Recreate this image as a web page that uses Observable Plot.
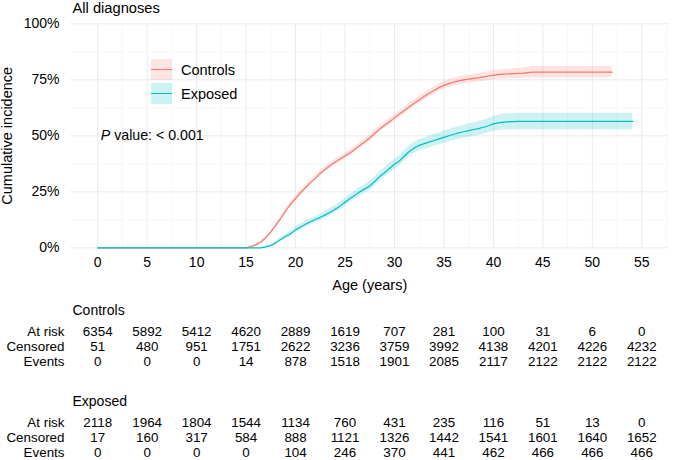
<!DOCTYPE html>
<html>
<head>
<meta charset="utf-8">
<script src="https://cdn.jsdelivr.net/npm/d3@7"></script>
<script src="https://cdn.jsdelivr.net/npm/@observablehq/plot@0.6"></script>
<style>
  html, body { margin: 0; padding: 0; background: #fff; }
  #wrap { position: relative; width: 685px; height: 460px; overflow: hidden;
          font-family: 'Liberation Sans', Arial, Helvetica, sans-serif; color: #000; }
  #wrap svg { display: block; }
  .legend { position: absolute; left: 151px; top: 59px; }
  .legend .item { position: relative; height: 23.5px; }
  .legend .key { position: absolute; left: 0; top: 0; width: 21px; height: 21px; }
  .legend .key span { position: absolute; left: 0; top: 10px; width: 21px; height: 1.2px; }
  .legend .lab { position: absolute; left: 30px; top: 1px; font-size: 14.5px; line-height: 20px; white-space: nowrap; }
</style>
</head>
<body>
<div id="wrap"></div>
<script>
// ---------------- data ----------------
const chartTitle = "All diagnoses";
const xTitle = "Age (years)";
const yTitle = "Cumulative incidence";
const pItalic = "P";
const pRest = "value: < 0.001";
const pPos = {t: 0, p: 0.5};

const groups = ["Controls", "Exposed"];
const groupColors = ["#F8766D", "#00BFC4"];

const xTicks = [0, 5, 10, 15, 20, 25, 30, 35, 40, 45, 50, 55];
const xMinor = [2.5, 7.5, 12.5, 17.5, 22.5, 27.5, 32.5, 37.5, 42.5, 47.5, 52.5, 57.5];
const yTicks = [0, 0.25, 0.5, 0.75, 1];
const yMinor = [0.125, 0.375, 0.625, 0.875];

// Controls: age (years), cumulative incidence (%), lower / upper CI (%)
const ctrlAge = [0,15,15.5,16,16.5,17,17.5,18,18.5,19,19.5,20,
  20.5,21,21.5,22,22.5,23,23.5,24,24.5,25,
  25.5,26,26.5,27,27.5,28,28.5,29,29.5,30,
  30.5,31,31.5,32,32.5,33,33.5,34,34.5,35,
  35.5,36,36.5,37,37.5,38,38.5,39,39.5,40,
  40.5,41,42,43,44,52];
const ctrlCI = [0,0,0.5,1.3,2.6,4.5,7,10,13,16.5,19.5,22,
  24.5,26.8,29,31,33.2,35,36.7,38.2,39.6,41,
  42.3,44,45.7,47.3,49,51,53,54.7,56.3,58,
  59.7,61.3,63,64.5,66,67.5,69,70.2,71.5,72.5,
  73.3,74,74.5,75,75.3,75.6,75.9,76.3,76.7,77,
  77.3,77.5,77.8,78,78.4,78.4];
const ctrlLo = [0,0,0.2,0.9,2.1,3.9,6.3,9.2,12.1,15.6,18.5,21,
  23.5,25.7,27.9,29.9,32,33.8,35.5,37,38.4,39.7,
  41,42.7,44.4,46,47.6,49.6,51.6,53.3,54.9,56.5,
  58.2,59.8,61.5,63,64.4,65.9,67.4,68.6,69.8,70.8,
  71.6,72.3,72.7,73.2,73.5,73.7,74,74.4,74.7,75,
  75.3,75.4,75.6,75.7,75.9,75.9];
const ctrlHi = [0,0,0.8,1.7,3.1,5.1,7.7,10.8,13.9,17.4,20.5,23,
  25.5,27.9,30.1,32.1,34.4,36.2,37.9,39.4,40.8,42.3,
  43.6,45.3,47,48.6,50.4,52.4,54.4,56.1,57.7,59.5,
  61.2,62.8,64.5,66,67.6,69.1,70.6,71.8,73.2,74.2,
  75,75.7,76.3,76.8,77.1,77.5,77.8,78.2,78.7,79,
  79.3,79.6,80,80.3,80.9,80.9];

// Exposed
const expAge = [0,16.5,17,17.5,18,18.5,19,19.5,20,
  20.5,21,21.5,22,22.5,23,23.5,24,24.5,25,
  25.5,26,26.5,27,27.5,28,28.5,29,29.5,30,
  30.5,31,31.5,32,32.5,33,33.5,34,34.5,35,
  35.5,36,36.5,37,37.5,38,38.5,39,39.5,40,
  40.5,41,42.5,54.1];
const expCI = [0,0,0.4,1,2.2,3.7,5,6.3,8,
  9.3,10.5,11.6,12.6,13.6,14.7,15.9,17.2,18.6,20.3,
  22,23.5,25,26.3,27.6,29.6,31.8,33.5,35.5,37.3,
  38.8,41,43,44.6,45.7,46.5,47.2,47.9,48.6,49.3,
  50,50.7,51.3,51.8,52.3,52.8,53.2,53.8,54.5,55.3,
  55.8,56.1,56.4,56.4];
const expLo = [0,0,0.1,0.5,1.5,2.8,4,5.2,6.8,
  8,9.2,10.2,11.2,12.1,13.2,14.3,15.6,16.9,18.6,
  20.2,21.7,23.1,24.4,25.6,27.6,29.7,31.4,33.3,35.1,
  36.5,38.7,40.6,42.2,43.2,44,44.6,45.3,45.9,46.6,
  47.2,47.9,48.4,48.9,49.3,49.8,50.1,50.7,51.3,52,
  52.4,52.6,52.7,52.7];
const expHi = [0,0,0.7,1.5,2.9,4.6,6,7.4,9.2,
  10.6,11.8,13,14,15.1,16.2,17.5,18.8,20.3,22,
  23.8,25.3,26.9,28.2,29.6,31.6,33.9,35.6,37.7,39.5,
  41.1,43.3,45.4,47,48.2,49,49.8,50.5,51.3,52,
  52.8,53.5,54.2,54.7,55.3,55.8,56.3,56.9,57.7,58.6,
  59.2,59.6,60.1,60.1];

// Risk tables
const tableTimes = [0,5,10,15,20,25,30,35,40,45,50,55];
const tableRows = ["At risk", "Censored", "Events"];
const ctrlAtRisk   = [6354,5892,5412,4620,2889,1619,707,281,100,31,6,0];
const ctrlCensored = [51,480,951,1751,2622,3236,3759,3992,4138,4201,4226,4232];
const ctrlEvents   = [0,0,0,14,878,1518,1901,2085,2117,2122,2122,2122];
const expAtRisk    = [2118,1964,1804,1544,1134,760,431,235,116,51,13,0];
const expCensored  = [17,160,317,584,888,1121,1326,1442,1541,1601,1640,1652];
const expEvents    = [0,0,0,0,104,246,370,441,462,466,466,466];

// ---------------- build ----------------
const FONT = "'Liberation Sans', Arial, Helvetica, sans-serif";
const W = 685, ML = 70, MR = 16.5;
const xDomain = [-2.75, 57.75];
const TFS = 13.4;

const curve = (ages, ci, lo, hi, g) => ages.map((t, i) => ({t, p: ci[i] / 100, lo: lo[i] / 100, hi: hi[i] / 100, g}));
const curves = [
  ...curve(ctrlAge, ctrlCI, ctrlLo, ctrlHi, groups[0]),
  ...curve(expAge, expCI, expLo, expHi, groups[1])
];

const main = Plot.plot({
  width: W, height: 300,
  marginLeft: ML, marginRight: MR, marginTop: 23.3, marginBottom: 52.7,
  style: {fontFamily: FONT, fontSize: "14px", color: "#000", background: "#fff", overflow: "visible"},
  x: {domain: xDomain},
  y: {domain: [0, 1]},
  color: {domain: groups, range: groupColors},
  marks: [
    Plot.ruleX(xMinor, {stroke: "#f3f3f3", strokeWidth: 0.7}),
    Plot.ruleY(yMinor, {stroke: "#f3f3f3", strokeWidth: 0.7}),
    Plot.ruleX(xTicks, {stroke: "#ebebeb", strokeWidth: 1}),
    Plot.ruleY(yTicks, {stroke: "#ebebeb", strokeWidth: 1}),
    Plot.areaY(curves, {x: "t", y1: "lo", y2: "hi", z: "g", fill: "g", fillOpacity: 0.2, curve: "linear"}),
    Plot.line(curves, {x: "t", y: "p", z: "g", stroke: "g", strokeWidth: 1.2, curve: "linear"}),
    Plot.axisX({ticks: xTicks, tickSize: 0, tickPadding: 9, fontSize: 14, label: null}),
    Plot.axisY({ticks: yTicks, tickSize: 0, tickPadding: 11, fontSize: 14, label: null,
                tickFormat: d => `${Math.round(d * 100)}%`}),
    Plot.text([pPos], {x: "t", y: "p", text: () => pItalic, fontStyle: "italic", textAnchor: "start", dx: 3, fontSize: 14.2}),
    Plot.text([pPos], {x: "t", y: "p", text: () => pRest, textAnchor: "start", dx: 16.5, fontSize: 14.2}),
    Plot.text([chartTitle], {frameAnchor: "top-left", textAnchor: "start", lineAnchor: "middle", dx: 2, dy: -15.3, fontSize: 14.7}),
    Plot.text([xTitle], {frameAnchor: "bottom", textAnchor: "middle", lineAnchor: "middle", dy: 38, fontSize: 14.5}),
    Plot.text([yTitle], {frameAnchor: "left", textAnchor: "middle", lineAnchor: "middle", rotate: -90, dx: -63.5, fontSize: 14.5})
  ]
});

function riskTable(name, atRisk, censored, events, titleY, rowRange, h) {
  const rows = [];
  const vals = [atRisk, censored, events];
  tableRows.forEach((r, j) => tableTimes.forEach((t, i) => rows.push({t, r, v: String(vals[j][i])})));
  return Plot.plot({
    width: W, height: h,
    marginLeft: ML, marginRight: MR, marginTop: 0, marginBottom: 0,
    style: {fontFamily: FONT, fontSize: TFS + "px", color: "#000", background: "#fff", overflow: "visible"},
    x: {domain: xDomain, axis: null},
    y: {type: "point", domain: tableRows, range: rowRange, padding: 0},
    marks: [
      Plot.axisY({tickSize: 0, tickPadding: 6, fontSize: TFS, label: null}),
      Plot.text(rows, {x: "t", y: "r", text: "v", fontSize: TFS}),
      Plot.text([name], {frameAnchor: "top-left", textAnchor: "start", lineAnchor: "middle", dx: 2, dy: titleY, fontSize: 14})
    ]
  });
}

const wrap = document.getElementById("wrap");
wrap.appendChild(main);
wrap.appendChild(riskTable(groups[0], ctrlAtRisk, ctrlCensored, ctrlEvents, 10.5, [30.5, 60.5], 80));
wrap.appendChild(riskTable(groups[1], expAtRisk, expCensored, expEvents, 21.5, [42, 72], 80));

// legend (inside the panel, as in the reference)
const legend = document.createElement("div");
legend.className = "legend";
groups.forEach((g, i) => {
  const item = document.createElement("div");
  item.className = "item";
  const key = document.createElement("div");
  key.className = "key";
  key.style.background = d3.color(groupColors[i]).copy({opacity: 0.2}).formatRgb();
  const ln = document.createElement("span");
  ln.style.background = groupColors[i];
  key.appendChild(ln);
  const lab = document.createElement("div");
  lab.className = "lab";
  lab.textContent = g;
  item.appendChild(key);
  item.appendChild(lab);
  legend.appendChild(item);
});
wrap.appendChild(legend);
</script>
</body>
</html>
